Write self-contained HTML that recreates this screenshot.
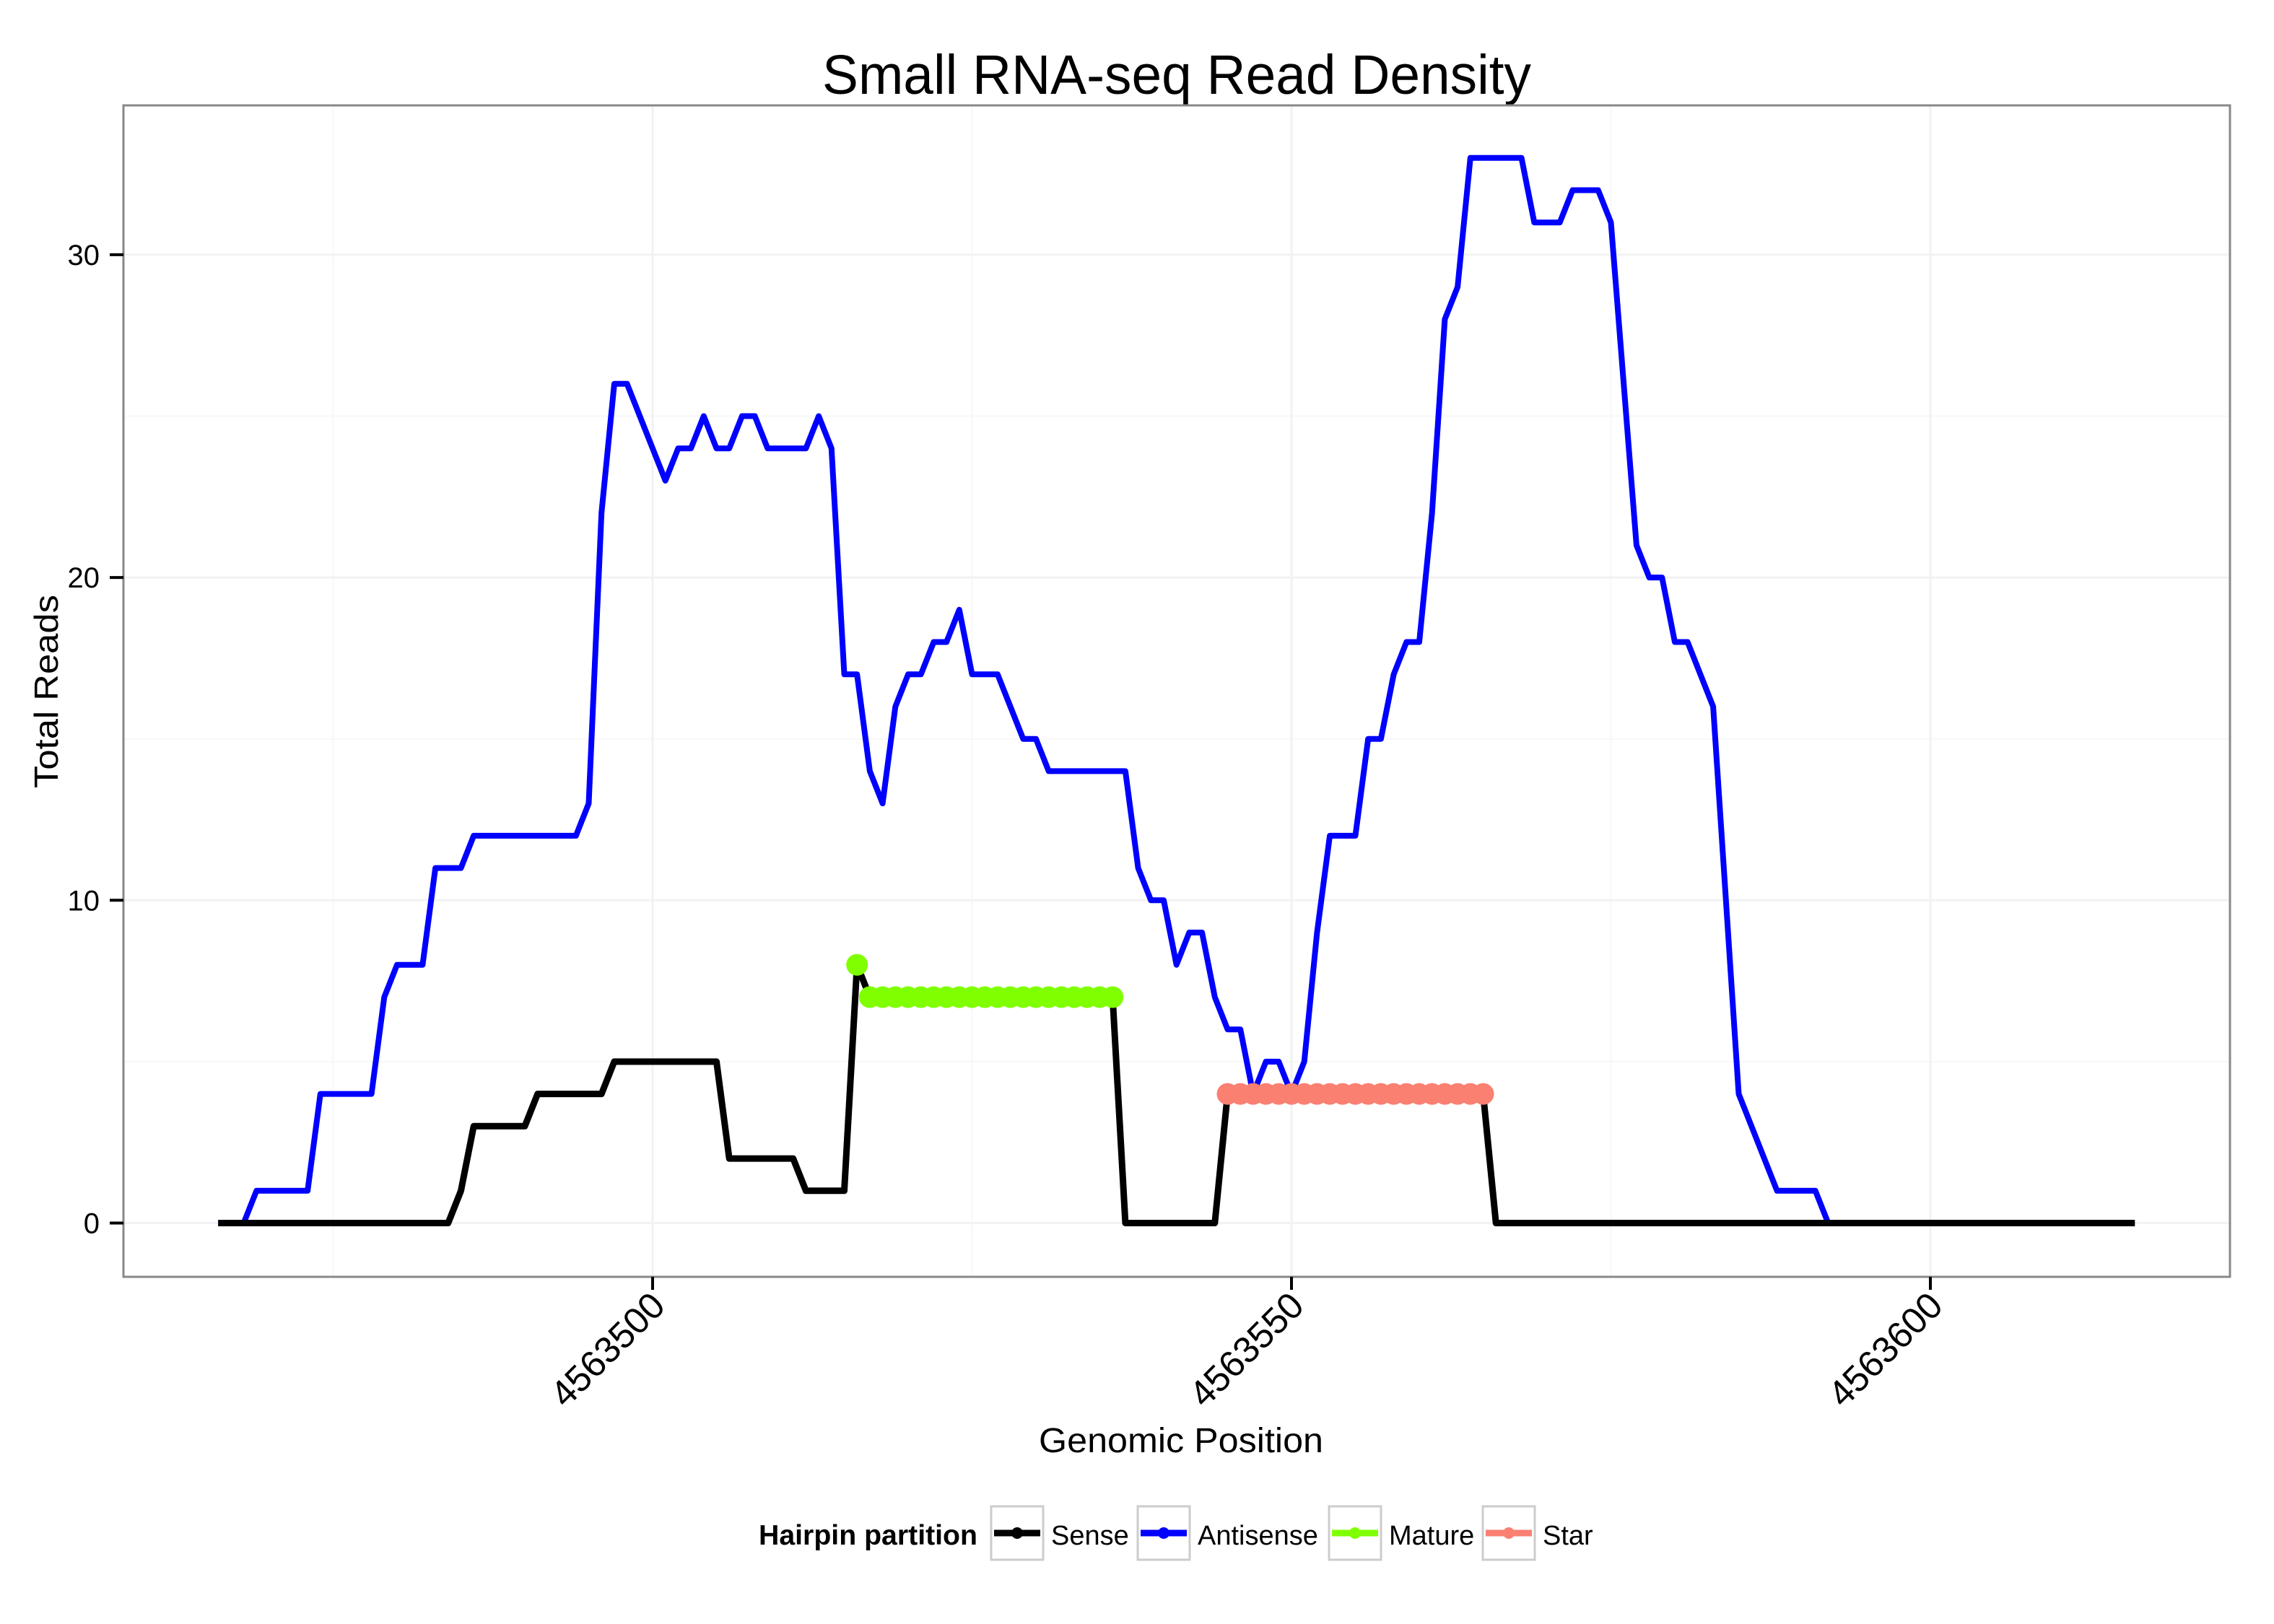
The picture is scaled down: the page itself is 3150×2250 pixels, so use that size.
<!DOCTYPE html>
<html><head><meta charset="utf-8"><style>
html,body{margin:0;padding:0;background:#fff;}
svg{display:block;font-family:"Liberation Sans",sans-serif;}
</style></head><body>
<svg id="chart" width="3150" height="2250" viewBox="0 0 3150 2250" xmlns="http://www.w3.org/2000/svg">
<rect x="0" y="0" width="3150" height="2250" fill="#fff"/>
<text x="1630" y="130" font-size="77" text-anchor="middle" textLength="982" lengthAdjust="spacingAndGlyphs">Small RNA-seq Read Density</text>
<g id="grid"></g>
<g id="series"></g>
<rect x="171" y="146" width="2918" height="1623" fill="none" stroke="#888" stroke-width="3"/>
<g id="axes"></g>
<text x="1636" y="2012" font-size="48" text-anchor="middle" textLength="394" lengthAdjust="spacingAndGlyphs">Genomic Position</text>
<text transform="translate(80,958) rotate(-90)" font-size="46" text-anchor="middle" textLength="268" lengthAdjust="spacingAndGlyphs">Total Reads</text>
<g id="legend">
<text x="1051" y="2140" font-size="39" font-weight="bold" textLength="303" lengthAdjust="spacingAndGlyphs">Hairpin partition</text>
</g>
</svg>
<script>
const startPos = 4563466;
const endPos = 4563616;
const sense = [0,0,0,0,0,0,0,0,0,0, 0,0,0,0,0,0,0,0,0,1, 3,3,3,3,3,4,4,4,4,4, 4,5,5,5,5,5,5,5,5,5, 2,2,2,2,2,2,1,1,1,1, 8,7,7,7,7,7,7,7,7,7, 7,7,7,7,7,7,7,7,7,7, 7,0,0,0,0,0,0,0,0,4, 4,4,4,4,4,4,4,4,4,4, 4,4,4,4,4,4,4,4,4,4, 0,0,0,0,0,0,0,0,0,0, 0,0,0,0,0,0,0,0,0,0, 0,0,0,0,0,0,0,0,0,0, 0,0,0,0,0,0,0,0,0,0, 0,0,0,0,0,0,0,0,0,0, 0];
const antisense = [0,0,0,1,1,1,1,1,4,4, 4,4,4,7,8,8,8,11,11,11, 12,12,12,12,12,12,12,12,12,13, 22,26,26,25,24,23,24,24,25,24, 24,25,25,24,24,24,24,25,24,17, 17,14,13,16,17,17,18,18,19,17, 17,17,16,15,15,14,14,14,14,14, 14,14,11,10,10,8,9,9,7,6, 6,4,5,5,4,5,9,12,12,12, 15,15,17,18,18,22,28,29,33,33, 33,33,33,31,31,31,32,32,32,31, 26,21,20,20,18,18,17,16,10,4, 3,2,1,1,1,1,0,0,0,0, 0,0,0,0,0,0,0,0,0,0, 0,0,0,0,0,0,0,0,0,0, 0];
const matureStart = 4563516;
const matureValues = [8,7,7,7,7,7,7,7,7,7,7,7,7,7,7,7,7,7,7,7,7];
const starStart = 4563545;
const starValues = [4,4,4,4,4,4,4,4,4,4,4,4,4,4,4,4,4,4,4,4,4];
const yTicks = [0,10,20,30];
const yMinor = [5,15,25];
const xTicks = [4563500,4563550,4563600];
const xMinor = [4563475,4563525,4563575];
const legendLabels = ["Sense","Antisense","Mature","Star"];

const NS = "http://www.w3.org/2000/svg";
const PL=171, PR=3089, PT=146, PB=1769;
function xs(p){ return 904 + (p - 4563500) * 17.7; }
function ys(v){ return 1694.5 - v * 44.72; }
function mk(tag, attrs, parent){ const e=document.createElementNS(NS,tag); for(const k in attrs) e.setAttribute(k,attrs[k]); parent.appendChild(e); return e; }

const grid=document.getElementById('grid');
yMinor.forEach(v=>{ const l=mk('line',{x1:PL,x2:PR,y1:ys(v),y2:ys(v),stroke:'#f7f7f7','stroke-width':2},grid);

 });
xMinor.forEach(p=>{ const l=mk('line',{x1:xs(p),x2:xs(p),y1:PT,y2:PB,stroke:'#f7f7f7','stroke-width':2},grid);

 });
yTicks.forEach(v=>{ const l=mk('line',{x1:PL,x2:PR,y1:ys(v),y2:ys(v),stroke:'#f2f2f2','stroke-width':3},grid);

 });
xTicks.forEach(p=>{ const l=mk('line',{x1:xs(p),x2:xs(p),y1:PT,y2:PB,stroke:'#f2f2f2','stroke-width':3},grid);

 });

const series=document.getElementById('series');
function linePts(vals, start){ return vals.map((v,i)=>xs(start+i).toFixed(1)+','+ys(v).toFixed(1)).join(' '); }
const aLine=mk('polyline',{points:linePts(antisense,startPos),fill:'none',stroke:'#0000ff','stroke-width':8,'stroke-linejoin':'round'},series);


const sLine=mk('polyline',{points:linePts(sense,startPos),fill:'none',stroke:'#000','stroke-width':9,'stroke-linejoin':'round'},series);


matureValues.forEach((v,i)=>{ const c=mk('circle',{cx:xs(matureStart+i),cy:ys(v),r:15,fill:'#7fff00'},series);

 });
starValues.forEach((v,i)=>{ const c=mk('circle',{cx:xs(starStart+i),cy:ys(v),r:15,fill:'#fa8072'},series);

 });

const axes=document.getElementById('axes');
yTicks.forEach(v=>{
  const t=mk('line',{x1:152,x2:171,y1:ys(v),y2:ys(v),stroke:'#000','stroke-width':4},axes);
  
  
  const tx=mk('text',{x:138,y:ys(v)+14,'font-size':40,'text-anchor':'end'},axes);
  tx.textContent=String(v);
  
  
});
xTicks.forEach(p=>{
  const t=mk('line',{x1:xs(p),x2:xs(p),y1:1769,y2:1787,stroke:'#000','stroke-width':4},axes);
  
  
  const tx=mk('text',{transform:`translate(${xs(p)+20},1812) rotate(-45)`,'font-size':51,'text-anchor':'end'},axes);
  tx.textContent=String(p);
  
  
});

const legend=document.getElementById('legend');
const legendColors=['#000000','#0000ff','#7fff00','#fa8072'];
const boxX=[1373,1576,1841,2054];
legendLabels.forEach((lab,i)=>{
  const g=mk('g',{},legend);
  
  
  mk('rect',{x:boxX[i],y:2087,width:72,height:74,fill:'#fff',stroke:'#cccccc','stroke-width':3},g);
  mk('line',{x1:boxX[i]+4,x2:boxX[i]+68,y1:2124,y2:2124,stroke:legendColors[i],'stroke-width':9},g);
  mk('circle',{cx:boxX[i]+36,cy:2124,r:8,fill:legendColors[i]},g);
  const tx=mk('text',{x:boxX[i]+83,y:2140,'font-size':38},g);
  tx.textContent=lab;
});
</script>
</body></html>
